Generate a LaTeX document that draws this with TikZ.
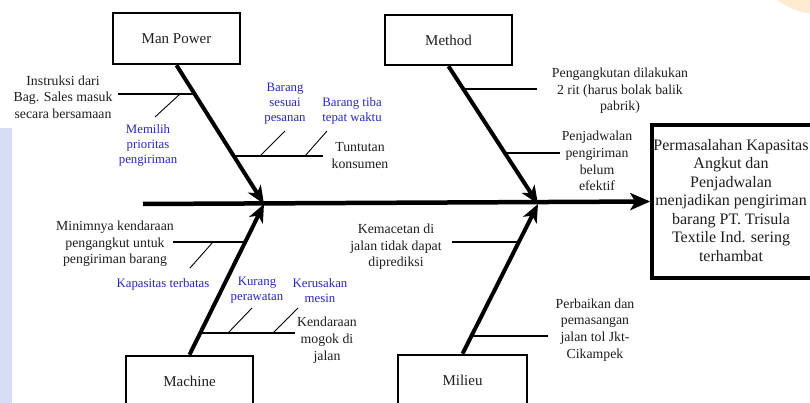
\documentclass[tikz,border=0pt]{standalone}
\usepackage{fontspec}
\setmainfont{Liberation Serif}
\usetikzlibrary{arrows.meta,calc}
\definecolor{causeblue}{RGB}{40,40,190}
\definecolor{txtgray}{RGB}{30,30,30}
\definecolor{bandblue}{RGB}{214,221,245}
\definecolor{blobor}{RGB}{253,236,208}
\begin{document}
\begin{tikzpicture}[x=1pt,y=-1pt,
  catbox/.style={draw,line width=2.5pt,minimum width=127pt,minimum height=51pt,inner sep=0pt,font=\fontsize{15}{18}\selectfont,text=txtgray},
  effbox/.style={draw,line width=3.5pt,minimum width=170pt,minimum height=153pt,inner sep=0pt},
  efftext/.style={align=center,inner sep=0pt,font=\fontsize{16}{18.5}\selectfont,text=txtgray},
  bone/.style={line width=4pt,-{Stealth[length=18pt,width=15pt,inset=5pt]}},
  spine/.style={line width=4.5pt,-{Stealth[length=20pt,width=17pt,inset=5pt]}},
  sub/.style={line width=2.4pt},
  twig/.style={line width=0.9pt},
  cause/.style={align=center,inner sep=0pt,font=\fontsize{13.8}{16.7}\selectfont,text=txtgray},
  subcause/.style={align=center,inner sep=0pt,font=\fontsize{12.8}{15}\selectfont,text=causeblue}]
\useasboundingbox (0,0) rectangle (810,403);
\fill[white] (0,0) rectangle (810,403);
% background artefacts
\fill[bandblue] (0,128) rectangle (12,403);
\begin{scope}
\clip (0,0) rectangle (810,403);
\fill[blobor] (815,-45) circle[radius=58.5pt];
\end{scope}

% category boxes
\node[catbox] (mp) at (176.5,38.5) {Man Power};
\node[catbox,minimum height=50pt] (me) at (448.5,40) {Method};
\node[catbox] (ma) at (189.5,381.5) {Machine};
\node[catbox,minimum width=129pt] (mi) at (462.5,380.5) {Milieu};

% effect box
\node[effbox] (eff) at (737,201.5) {};
\node[efftext] (efft) at (731,200.5) {Permasalahan Kapasitas\\Angkut dan\\Penjadwalan\\menjadikan pengiriman\\barang PT. Trisula\\Textile Ind. sering\\terhambat};

% spine
\coordinate (tail) at (143,204);
\coordinate (j1) at (264,204);
\coordinate (j2) at (538,204);
\draw[spine] (tail) -- (eff.west);

% main bones
\draw[bone] (mp.south) -- (j1);
\draw[bone] (me.south) -- (j2);
\draw[bone] (ma.north) -- (j1);
\draw[bone] (mi.north) -- (j2);

% Man Power causes
\coordinate (mp1a) at (118,94); \coordinate (mp1b) at (195.5,94);
\draw[sub] (mp1a) -- (mp1b);
\coordinate (mp1c) at (180,94); \coordinate (mp1d) at (155,117);
\draw[twig] (mp1c) -- (mp1d);
\node[cause] (c1) at (63,97) {Instruksi dari\\Bag. Sales masuk\\secara bersamaan};
\node[subcause] (s1) at (148,145) {Memilih\\prioritas\\pengiriman};

\coordinate (mp2a) at (234,156); \coordinate (mp2b) at (323,156);
\draw[sub] (mp2a) -- (mp2b);
\coordinate (mp2c) at (260,156); \coordinate (mp2d) at (285,131);
\coordinate (mp2e) at (305,156); \coordinate (mp2f) at (327,131);
\draw[twig] (mp2c) -- (mp2d);
\draw[twig] (mp2e) -- (mp2f);
\node[cause] (c2) at (360,155.5) {Tuntutan\\konsumen};
\node[subcause] (s2) at (285,104) {Barang\\sesuai\\pesanan};
\node[subcause] (s3) at (352,110.5) {Barang tiba\\tepat waktu};

% Method causes
\coordinate (me1a) at (463.5,89); \coordinate (me1b) at (537,89);
\draw[sub] (me1a) -- (me1b);
\node[cause] (c3) at (620,90.7) {Pengangkutan dilakukan\\2 rit (harus bolak balik\\pabrik)};
\coordinate (me2a) at (505,153); \coordinate (me2b) at (560,153);
\draw[sub] (me2a) -- (me2b);
\node[cause] (c4) at (597,161) {Penjadwalan\\pengiriman\\belum\\efektif};

% Machine causes
\coordinate (ma1a) at (173,242); \coordinate (ma1b) at (245,242);
\draw[sub] (ma1a) -- (ma1b);
\coordinate (ma1c) at (213,242); \coordinate (ma1d) at (190,268);
\draw[twig] (ma1c) -- (ma1d);
\node[cause] (c5) at (115,244) {Minimnya kendaraan\\pengangkut untuk\\pengiriman barang};
\node[subcause] (s4) at (163,284) {Kapasitas terbatas};

\coordinate (ma2a) at (201,333); \coordinate (ma2b) at (295,333);
\draw[sub] (ma2a) -- (ma2b);
\coordinate (ma2c) at (228,333); \coordinate (ma2d) at (252,308);
\coordinate (ma2e) at (273,333); \coordinate (ma2f) at (298,308);
\draw[twig] (ma2c) -- (ma2d);
\draw[twig] (ma2e) -- (ma2f);
\node[cause] (c6) at (327,340) {Kendaraan\\mogok di\\jalan};
\node[subcause] (s5) at (257,290.5) {Kurang\\perawatan};
\node[subcause] (s6) at (320,290.5) {Kerusakan\\mesin};

% Milieu causes
\coordinate (mi1a) at (452,242); \coordinate (mi1b) at (519,242);
\draw[sub] (mi1a) -- (mi1b);
\node[cause] (c7) at (396,246.7) {Kemacetan di\\jalan tidak dapat\\diprediksi};
\coordinate (mi2a) at (472,336); \coordinate (mi2b) at (548,336);
\draw[sub] (mi2a) -- (mi2b);
\node[cause] (c8) at (595,330) {Perbaikan dan\\pemasangan\\jalan tol Jkt-\\Cikampek};
\end{tikzpicture}
\end{document}
